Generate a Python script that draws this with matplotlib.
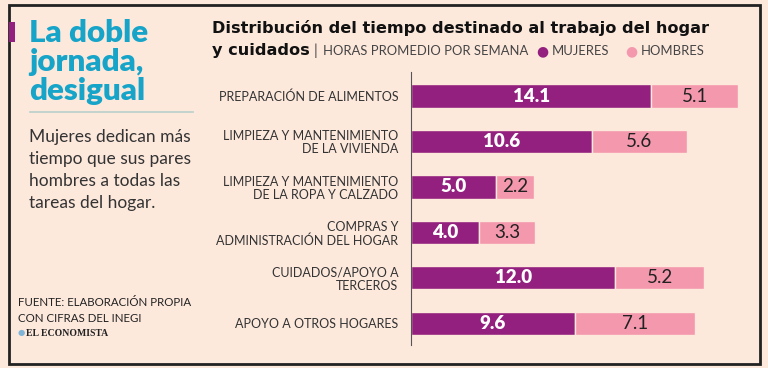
import matplotlib.pyplot as plt
from matplotlib.patches import Rectangle

categories = ['PREPARACIÓN DE ALIMENTOS',
              'LIMPIEZA Y MANTENIMIENTO\nDE LA VIVIENDA',
              'LIMPIEZA Y MANTENIMIENTO\nDE LA ROPA Y CALZADO',
              'COMPRAS Y\nADMINISTRACIÓN DEL HOGAR',
              'CUIDADOS/APOYO A\nTERCEROS',
              'APOYO A OTROS HOGARES']
mujeres = [14.1, 10.6, 5.0, 4.0, 12.0, 9.6]
hombres = [5.1, 5.6, 2.2, 3.3, 5.2, 7.1]

bg = '#fde8dc'
purple = '#93207e'
pink = '#f498ad'
cyan = '#16a4c9'

W, H = 768, 368
fig = plt.figure(figsize=(W / 100, H / 100), dpi=100, facecolor=bg)


def px(x, y):
    return x / W, 1 - y / H


# frame
fig.patches.append(Rectangle(px(9, 364), 751 / W, 359 / H, transform=fig.transFigure,
                             fill=False, edgecolor='#222222', linewidth=2))

# left panel
fig.patches.append(Rectangle(px(9, 42), 6 / W, 20 / H, transform=fig.transFigure,
                             facecolor=purple, edgecolor='none'))
for i, line in enumerate(['La doble', 'jornada,', 'desigual']):
    fig.text(*px(29, 33 + i * 29), line, color=cyan, fontsize=22.5, fontweight='heavy',
             family='Lato', va='center', ha='left')
fig.add_artist(plt.Line2D([30 / W, 193 / W], [1 - 112 / H, 1 - 112 / H],
                          color='#b9cfcc', linewidth=1.2, transform=fig.transFigure))
for i, line in enumerate(['Mujeres dedican más', 'tiempo que sus pares',
                          'hombres a todas las', 'tareas del hogar.']):
    fig.text(*px(29, 137 + i * 22), line, color='#333333', fontsize=12.5,
             family='Lato', va='center', ha='left')
fig.text(*px(18, 302), 'FUENTE: ELABORACIÓN PROPIA', color='#222222', fontsize=8.3,
         family='Lato', va='center')
fig.text(*px(18, 318), 'CON CIFRAS DEL INEGI', color='#222222', fontsize=8.3,
         family='Lato', va='center')
fig.text(*px(18, 333), '●', color='#7fb6d8', fontsize=6, va='center')
fig.text(*px(26, 333), 'EL ECONOMISTA', color='#222222', fontsize=7, family='Liberation Serif',
         fontweight='bold', va='center')

# chart title
fig.text(*px(212, 28), 'Distribución del tiempo destinado al trabajo del hogar', color='#111111',
         fontsize=11.6, fontweight='bold', family='DejaVu Sans', va='center')
fig.text(*px(212, 51), 'y cuidados', color='#111111', fontsize=11.6, fontweight='bold',
         family='DejaVu Sans', va='center')
fig.text(*px(314, 51), '|', color='#444444', fontsize=11, family='Lato', va='center')
fig.text(*px(323, 51), 'HORAS PROMEDIO POR SEMANA', color='#444444', fontsize=9.4,
         family='Lato', va='center')
fig.text(*px(542, 51), '●', color=purple, fontsize=10, va='center', ha='center')
fig.text(*px(552, 51), 'MUJERES', color='#444444', fontsize=9.4, family='Lato', va='center')
fig.text(*px(631, 51), '●', color=pink, fontsize=10, va='center', ha='center')
fig.text(*px(641, 51), 'HOMBRES', color='#444444', fontsize=9.4, family='Lato', va='center')

# bars
ax = fig.add_axes([411 / W, 1 - 345 / H, (750 - 411) / W, (345 - 72) / H])
ax.set_facecolor(bg)
ypos = list(range(len(categories)))
ax.barh(ypos, mujeres, height=0.51, color=purple, edgecolor=bg, linewidth=1)
ax.barh(ypos, hombres, left=mujeres, height=0.51, color=pink, edgecolor=bg, linewidth=1)
for y, m, h in zip(ypos, mujeres, hombres):
    ax.text(m / 2, y, f'{m:.1f}', color='white', fontsize=13.5, fontweight='heavy',
            family='Lato', ha='center', va='center')
    ax.text(m + h / 2, y, f'{h:.1f}', color='#222222', fontsize=13.5, family='Lato',
            ha='center', va='center')
ax.set_xlim(0, 19.9)
ax.set_ylim(5.48, -0.53)
ax.set_yticks(ypos)
ax.set_yticklabels(categories, fontsize=9, family='Lato', color='#333333', linespacing=1.1)
ax.tick_params(axis='y', length=0, pad=9)
ax.set_xticks([])
for s in ['top', 'right', 'bottom']:
    ax.spines[s].set_visible(False)
ax.spines['left'].set_color('#555555')
ax.spines['left'].set_linewidth(0.8)

fig.savefig('out.png', dpi=100, facecolor=bg)
